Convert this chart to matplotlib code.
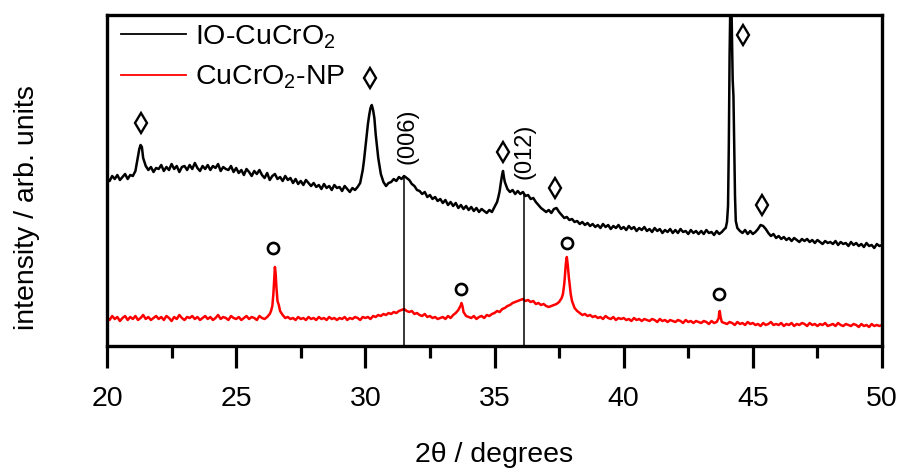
import numpy as np
import matplotlib
matplotlib.use("Agg")
import matplotlib.pyplot as plt

plt.rcParams['font.family'] = ['Liberation Sans', 'DejaVu Sans']
plt.rcParams['mathtext.default'] = 'regular'

# ---------------- data (2theta in degrees, intensity in arb. units) ----------------
two_theta_grid = np.round(np.arange(20.0, 50.0001, 0.1), 2)

io_cucro2_grid = [
    168, 165, 170, 167, 171, 166, 169, 172, 167, 171,   # 20
    170, 175, 190, 201, 188, 180, 176, 179, 174, 178,   # 21
    177, 181, 175, 179, 176, 182, 177, 180, 174, 179,   # 22
    180, 176, 181, 177, 183, 178, 175, 180, 177, 181,   # 23
    176, 180, 178, 182, 175, 179, 177, 176, 180, 174,   # 24
    178, 173, 176, 171, 177, 174, 170, 175, 172, 176,   # 25
    171, 168, 173, 166, 170, 172, 167, 169, 165, 170,   # 26
    166, 168, 163, 167, 162, 165, 161, 166, 163, 160,   # 27
    163, 159, 161, 157, 162, 158, 160, 156, 161, 158,   # 28
    159, 155, 160, 157, 154, 158, 156, 159, 163, 176,   # 29
    198, 222, 238, 236, 212, 188, 172, 164, 160, 163,   # 30
    164, 167, 165, 169, 167, 170, 168, 166, 162, 160,   # 31
    156, 155, 152, 154, 149, 151, 147, 149, 145, 147,   # 32
    143, 146, 141, 144, 140, 143, 138, 141, 137, 140,   # 33
    136, 139, 135, 138, 134, 137, 135, 133, 136, 134,   # 34
    139, 144, 155, 172, 164, 157, 154, 156, 152, 155,   # 35
    152, 154, 150, 151, 147, 148, 144, 141, 138, 136,   # 36
    134, 136, 133, 137, 138, 134, 131, 128, 129, 126,   # 37
    127, 124, 125, 122, 124, 121, 123, 120, 122, 119,   # 38
    121, 118, 122, 119, 121, 117, 120, 118, 121, 117,   # 39
    119, 116, 120, 117, 119, 115, 118, 116, 119, 115,   # 40
    117, 114, 118, 115, 117, 113, 116, 114, 117, 113,   # 41
    116, 113, 117, 114, 115, 112, 116, 113, 115, 112,   # 42
    115, 112, 116, 113, 114, 111, 115, 112, 114, 117,   # 43
    124, 290, 300, 165, 118, 115, 113, 116, 112, 115,   # 44
    112, 114, 117, 121, 120, 117, 113, 110, 112, 108,   # 45
    110, 107, 109, 106, 108, 105, 108, 106, 104, 107,   # 46
    105, 107, 104, 106, 103, 106, 104, 102, 105, 103,   # 47
    104, 102, 105, 101, 104, 102, 103, 100, 104, 101,   # 48
    103, 100, 102, 99, 103, 100, 101, 98, 102, 100,     # 49
    101,                                                # 50
]
io_cucro2_peak_x = [21.25, 21.35, 29.95, 30.05, 30.15, 30.25, 30.35, 30.45,
                    35.15, 35.25, 35.33, 35.37,
                    43.95, 44.04, 44.07, 44.13, 44.17, 44.22, 44.25, 44.28, 44.31, 44.34]
io_cucro2_peak_y = [197, 199, 186, 210, 231, 241, 228, 200,
                    149, 164, 175, 168,
                    118, 140, 200, 345, 345, 266, 250, 200, 150, 125]

cucro2_np_grid = [
    28, 26, 30, 27, 29, 25, 28, 30, 26, 29,   # 20
    27, 30, 26, 28, 31, 27, 29, 26, 28, 30,   # 21
    27, 29, 26, 30, 28, 25, 29, 27, 31, 28,   # 22
    26, 29, 28, 30, 27, 29, 26, 28, 30, 27,   # 23
    29, 26, 28, 31, 27, 29, 28, 26, 30, 28,   # 24
    27, 29, 26, 28, 30, 27, 29, 28, 26, 30,   # 25
    28, 27, 29, 32, 40, 79, 45, 35, 31, 28,   # 26
    29, 27, 28, 26, 29, 27, 28, 26, 29, 27,   # 27
    28, 26, 29, 27, 28, 26, 29, 27, 28, 26,   # 28
    28, 27, 29, 26, 28, 27, 29, 28, 26, 29,   # 29
    28, 29, 27, 30, 29, 31, 30, 32, 31, 33,   # 30
    32, 34, 33, 35, 36, 37, 35, 34, 35, 32,   # 31
    33, 31, 30, 32, 29, 30, 28, 29, 27, 28,   # 32
    29, 27, 30, 28, 31, 33, 36, 41, 34, 30,   # 33
    29, 28, 30, 27, 29, 30, 28, 31, 30, 32,   # 34
    33, 35, 34, 37, 38, 40, 41, 43, 44, 45,   # 35
    46, 47, 45, 46, 44, 45, 42, 43, 41, 42,   # 36
    40, 39, 40, 41, 42, 44, 48, 62, 89, 64,   # 37
    45, 38, 35, 33, 31, 32, 30, 31, 29, 30,   # 38
    28, 29, 27, 30, 28, 27, 29, 26, 28, 27,   # 39
    28, 26, 27, 25, 28, 26, 27, 25, 27, 26,   # 40
    25, 27, 26, 24, 27, 25, 26, 24, 26, 25,   # 41
    24, 26, 25, 23, 26, 24, 25, 23, 25, 24,   # 42
    23, 25, 24, 22, 25, 23, 24, 34, 24, 23,   # 43
    22, 24, 23, 21, 24, 22, 23, 21, 24, 22,   # 44
    23, 21, 22, 20, 23, 21, 22, 24, 21, 22,   # 45
    21, 23, 20, 22, 21, 23, 20, 22, 21, 23,   # 46
    22, 20, 23, 21, 22, 20, 22, 21, 23, 20,   # 47
    21, 22, 20, 23, 21, 20, 22, 21, 20, 22,   # 48
    21, 19, 22, 20, 21, 19, 22, 20, 21, 20,   # 49
    21,                                       # 50
]
cucro2_np_peak_x = [26.35, 26.44, 26.47, 26.53, 26.56, 26.65, 33.72, 33.76,
                    37.65, 37.72, 37.76, 37.84, 37.88, 37.95, 43.68, 43.72, 43.75]
cucro2_np_peak_y = [35, 52, 66, 72, 58, 41, 43, 40,
                    52, 68, 82, 80, 68, 52, 28, 35, 29]

# reflections of the reference pattern
ref_positions = [31.5, 36.15]
ref_heights = [169, 153]
ref_labels = ['(006)', '(012)']

# phase markers
diamond_x = [21.3, 30.18, 35.33, 37.34, 44.62, 45.36]
diamond_y = [223, 268, 194, 158, 311, 141]
circle_x = [26.43, 33.7, 37.81, 43.69]
circle_y = [98, 57, 103, 52]

series_labels = ['IO-CuCrO$_2$', 'CuCrO$_2$-NP']


def merge(grid_x, grid_y, px, py):
    x = np.concatenate([grid_x, px])
    y = np.concatenate([np.asarray(grid_y, float), py])
    order = np.argsort(x, kind='stable')
    return x[order], y[order]


bx, by = merge(two_theta_grid, io_cucro2_grid, io_cucro2_peak_x, io_cucro2_peak_y)
rx, ry = merge(two_theta_grid, cucro2_np_grid, cucro2_np_peak_x, cucro2_np_peak_y)

# ---------------- figure ----------------
fig = plt.figure(figsize=(9.02, 4.72), dpi=100)
ax = fig.add_axes([107 / 902, 1 - 346 / 472, 775 / 902, 331 / 472])

l1, = ax.plot(bx, by, color='black', lw=1.8, label=series_labels[0])
l2, = ax.plot(rx, ry, color='red', lw=1.8, label=series_labels[1])

ax.vlines(ref_positions, 0, ref_heights, color='black', lw=1.1)
for xp, lab, yc in zip(ref_positions, ref_labels, [210, 195]):
    ax.text(xp + 0.12 if lab == '(006)' else xp, yc, lab, rotation=90,
            ha='center', va='center', fontsize=17)

ax.plot(diamond_x, diamond_y, ls='none', marker='d', ms=10.2, mfc='none',
        mec='black', mew=1.7)
ax.plot(circle_x, circle_y, ls='none', marker='o', ms=8, mfc='none',
        mec='black', mew=1.9)

ax.set_xlim(20, 50)
ax.set_ylim(0, 331)
ax.set_xticks([20, 25, 30, 35, 40, 45, 50])
ax.set_xticks([22.5, 27.5, 32.5, 37.5, 42.5, 47.5], minor=True)
ax.set_yticks([])
ax.tick_params(axis='x', which='major', direction='out', length=16, width=2.3,
               labelsize=20.5, pad=13)
ax.tick_params(axis='x', which='minor', direction='out', length=8.5, width=2.3)
for sp in ax.spines.values():
    sp.set_linewidth(2.4)

leg = ax.legend(handles=[l1, l2], loc='upper left', bbox_to_anchor=(0.018, 0.975),
                frameon=False, fontsize=20.5, handlelength=2.3, handletextpad=0.3,
                labelspacing=0.45, borderpad=0, borderaxespad=0)
for h in leg.legend_handles:
    h.set_linewidth(1.3)

fig.text(494 / 902, 1 - 455 / 472, '2θ / degrees', ha='center', va='center', fontsize=20.5)
fig.text(27 / 902, 1 - 208 / 472, 'intensity / arb. units', ha='center', va='center',
         rotation=90, fontsize=20.5)

fig.savefig('out.png', dpi=100)
